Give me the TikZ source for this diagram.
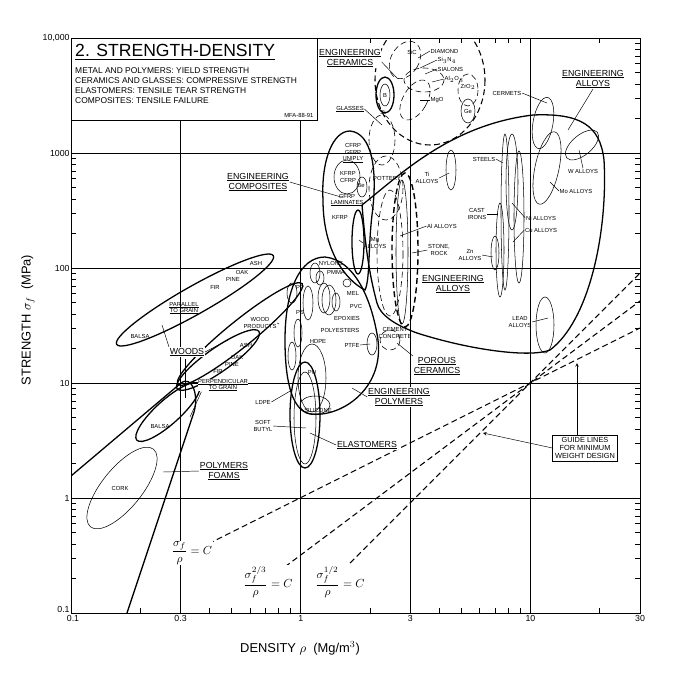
\documentclass[tikz,border=0pt]{standalone}
\usepackage{amsmath,amssymb}
\usepackage{fontspec}
\setmainfont{Liberation Sans}
\usepackage{xcolor}
\usepackage{tikz}
\usetikzlibrary{calc}

\begin{document}
\begin{tikzpicture}[x=0.03cm,y=-0.03cm,
    lab/.style={font=\fontsize{5}{5.5}\selectfont,inner sep=0.4pt,align=center},
    grp/.style={font=\fontsize{7.5}{8.5}\selectfont,inner sep=0.6pt,align=center,fill=white},
    env/.style={line width=1.1pt},
    fam/.style={line width=0.45pt},
    dsh/.style={line width=0.9pt,dash pattern=on 5pt off 3pt},
    ldr/.style={line width=0.4pt},
    gdl/.style={fill=white,inner sep=0.5pt,font=\fontsize{10}{11}\selectfont}]
    % --- page and frame
    \useasboundingbox (0,0) rectangle (681,687);
    \draw[line width=0.7pt] (71,38) rectangle (640,613);

    % --- grid (log decades)
    \foreach \x in {180.6,300.7}{\draw[line width=0.5pt] (\x,120) -- (\x,613);}
    \foreach \x in {410.3,530.4}{\draw[line width=0.5pt] (\x,38) -- (\x,613);}
    \foreach \y in {153,268,383,498}{\draw[line width=0.5pt] (71,\y) -- (640,\y);}

    % --- minor ticks
    \foreach \d in {0,...,4}{\foreach \m in {2,...,9}{
      \pgfmathsetmacro\ty{613-115*(\d+ln(\m)/ln(10))}
      \draw[line width=0.4pt] (71,\ty) -- ++(5,0);
      \draw[line width=0.4pt] (640,\ty) -- ++(-5,0);}}
    \foreach \d in {0,1,2}{\foreach \m in {2,...,9}{
      \pgfmathsetmacro\tx{71+229.7*(\d+ln(\m)/ln(10))}
      \ifdim\tx pt<639pt
        \draw[line width=0.4pt] (\tx,613) -- ++(0,-5);
        \draw[line width=0.4pt] (\tx,38) -- ++(0,5);
      \fi}}

    % --- axis numbers
    \foreach \y/\t in {38/{10,000},153/1000,268/100,383/10,498/1,609/0.1}{
      \node[anchor=east,font=\fontsize{7.5}{8}\selectfont,inner sep=1pt] (ylab\y) at (71,\y) {\t};}
    \foreach \x/\t in {73/0.1,180.6/0.3,300.7/1,410.3/3,530.4/10,640/30}{
      \node[anchor=north,font=\fontsize{7.5}{8}\selectfont,inner sep=1pt] (xlab\x) at (\x,614) {\t};}
    \node[font=\fontsize{11}{12}\selectfont] (xtitle) at (300,648) {DENSITY $\rho$ \ (Mg/m$^3$)};
    \node[font=\fontsize{11}{12}\selectfont,rotate=90] (ytitle) at (28,320) {STRENGTH $\sigma_f$ \ (MPa)};

    % --- title box
    \draw[line width=0.7pt,fill=white] (71,38) rectangle (317,120);
    \node[anchor=west,font=\fontsize{15}{16}\selectfont,inner sep=0pt] (title) at (75,52) {\underline{2. STRENGTH-DENSITY}};
    \node[anchor=north west,font=\fontsize{7.2}{8.6}\selectfont,align=left,inner sep=0pt] (subtitle) at (75,67)
      {METAL AND POLYMERS: YIELD STRENGTH\\CERAMICS AND GLASSES: COMPRESSIVE STRENGTH\\ELASTOMERS: TENSILE TEAR STRENGTH\\COMPOSITES: TENSILE FAILURE};
    \node[lab,anchor=east] (mfa) at (314,115) {MFA-88-91};

    \begin{scope}
    \clip (71,38) rectangle (640,613);
    % --- guide lines
    \draw[dsh] (200,548) -- (640,328);
    \draw[dsh] (270,578) -- (640,301);
    \draw[dsh] (350,563) -- (640,273);

    % --- foams and woods
    \draw[env] (71,476) -- (181,383) .. controls (192,375) and (199,395) .. (194,412) -- (127,613);
    \draw[env,rotate around={29.5:(195,300)}] (195,300) ellipse (90 and 14);
    \draw[env,rotate around={39:(240,334)}] (240,334) ellipse (80 and 13);
    \draw[env,rotate around={35:(218,360)}] (218,360) ellipse (50 and 12);
    \draw[env,rotate around={42:(168,412)}] (168,412) ellipse (42 and 12);
    \draw[fam,rotate around={51:(122,488)}] (122,488) ellipse (50 and 20);

    % --- polymers and elastomers
    \draw[env] (285,340) .. controls (285,290) and (300,257) .. (325,257) .. controls (355,260) and (372,300) .. (378,340)
      .. controls (384,390) and (340,418) .. (310,414) .. controls (290,410) and (285,375) .. (285,340);
    \draw[env] (305,415) ellipse (15 and 53);
    \draw[fam] (305,418) ellipse (11 and 46);
    \draw[fam] (312,378) ellipse (14 and 34);
    \draw[fam] (315,405) ellipse (15 and 9);
    \draw[fam] (298,333) ellipse (4 and 14);
    \draw[fam] (292,356) ellipse (4 and 14);
    \draw[fam] (292,293) ellipse (5 and 10);
    \draw[fam] (308,303) ellipse (5 and 17);
    \draw[fam] (315,273) ellipse (5 and 10);
    \draw[fam] (320,278) ellipse (4 and 7);
    \draw[fam] (324,298) ellipse (6 and 15);
    \draw[fam] (329,300) ellipse (7 and 15);
    \draw[fam] (347,283) ellipse (4 and 4);
    \draw[fam] (336,302) ellipse (4 and 9);
    \draw[fam] (372,344) ellipse (5 and 11);

    % --- composites
    \draw[env] (350,131) .. controls (372,133) and (378,170) .. (372,215) .. controls (368,250) and (370,280) .. (365,290)
      .. controls (345,280) and (323,250) .. (323,200) .. controls (321,160) and (333,131) .. (350,131);
    \draw[fam] (347,177) ellipse (13 and 17);
    \draw[fam] (362,187) ellipse (5 and 10);
    \draw[env] (358,242) ellipse (6 and 32);

    % --- ceramics and glasses
    \draw[dsh] (430,80) ellipse (55 and 65);
    \draw[dsh,line width=0.5pt] (386,188) ellipse (17 and 32);
    \draw[dsh,line width=1.2pt] (405,250) ellipse (13 and 77);
    \draw[dsh,line width=0.5pt] (390,253) ellipse (13 and 63);
    \draw[dsh,line width=0.5pt] (382,140) ellipse (13 and 25);
    \draw[dsh,line width=0.5pt,rotate around={-30:(405,60)}] (405,60) ellipse (14 and 20);
    \draw[dsh,line width=0.5pt] (424,80) ellipse (20 and 12);
    \draw[dsh,line width=0.5pt,rotate around={-30:(415,100)}] (415,100) ellipse (12 and 22);
    \draw[dsh,line width=0.5pt] (468,90) ellipse (10 and 16);
    \draw[fam] (468,111) ellipse (7 and 12);
    \draw[env] (385,95) ellipse (9 and 18);
    \draw[fam] (385,95) ellipse (5 and 11);
    \draw[dsh,line width=0.5pt] (390,340) ellipse (10 and 10);

    % --- metals
    \draw[env] (362,205) .. controls (400,175) and (450,125) .. (533,115) .. controls (580,113) and (600,125) .. (604,160)
      .. controls (608,230) and (590,320) .. (550,350) .. controls (530,358) and (470,350) .. (417,333)
      .. controls (395,325) and (380,315) .. (377,303) .. controls (368,270) and (365,240) .. (362,205);
    \draw[fam] (402,252) ellipse (6 and 72);
    \draw[fam] (451,170) ellipse (5 and 20);
    \draw[fam] (505,212) ellipse (4 and 78);
    \draw[fam] (512,182) ellipse (6 and 48);
    \draw[fam] (519,217) ellipse (5 and 66);
    \draw[fam] (500,250) ellipse (4 and 47);
    \draw[fam] (495,253) ellipse (4 and 17);
    \draw[fam] (545,325) ellipse (9 and 28);
    \draw[fam,rotate around={-10:(543,123)}] (543,123) ellipse (10 and 26);
    \draw[fam,rotate around={40:(582,145)}] (582,145) ellipse (20 and 10);
    \draw[fam,rotate around={-12:(547,168)}] (547,168) ellipse (12 and 37);
    \end{scope}

    % --- woods and foams labels
    \node[lab] (ash1) at (256,263) {ASH};
    \node[lab] (oak1) at (242,272) {OAK};
    \node[lab] (pine1) at (233,279) {PINE};
    \node[lab] (fir1) at (215,287) {FIR};
    \node[lab] (para) at (184,308) {\underline{PARALLEL}\\\underline{TO GRAIN}};
    \node[lab] (balsa1) at (140,336) {BALSA};
    \node[grp] (woods) at (187,352) {\underline{WOODS}};
    \node[lab] (wprod) at (260,323) {WOOD\\PRODUCTS};
    \node[lab] (ash2) at (246,345) {ASH};
    \node[lab] (oak2) at (237,357) {OAK};
    \node[lab] (pine2) at (232,364) {PINE};
    \node[lab] (fir2) at (218,371) {FIR};
    \node[lab,fill=white] (perp) at (223,385) {\underline{PERPENDICULAR}\\\underline{TO GRAIN}};
    \node[lab] (balsa2) at (160,426) {BALSA};
    \node[lab] (cork) at (120,488) {CORK};
    \node[grp] (foams) at (224,471) {\underline{POLYMERS}\\\underline{FOAMS}};
    \draw[ldr] (woods.north west) -- (162,325);
    \draw[ldr] (woods.east) -- (228,340);
    \draw[ldr] (185,359) -- (185,398);
    \draw[ldr] (perp.south west) ++(4,0) -- (190,417);
    \draw[ldr] (foams.west) -- (163,472);
    \draw[ldr] (wprod.east) -- (279,324);

    % --- polymer labels
    \node[lab] (nylons) at (331,263) {NYLONS};
    \node[lab] (pmma) at (336,272) {PMMA};
    \node[lab] (pp) at (300,287) {PP};
    \node[lab] (mel) at (353,293) {MEL};
    \node[lab] (pvc) at (356,306) {PVC};
    \node[lab] (ps) at (300,312) {PS};
    \node[lab] (epox) at (347,318) {EPOXIES};
    \node[lab] (poly) at (340,330) {POLYESTERS};
    \node[lab] (hdpe) at (318,341) {HDPE};
    \node[lab] (ptfe) at (352,345) {PTFE};
    \node[lab] (pu) at (312,373) {PU};
    \node[lab] (ldpe) at (263,402) {LDPE};
    \node[lab] (silic) at (318,410) {SILICONE};
    \node[lab] (butyl) at (263,426) {SOFT\\BUTYL};
    \node[grp] (elast) at (367,445) {\underline{ELASTOMERS}};
    \node[grp] (epoly) at (399,397) {\underline{ENGINEERING}\\\underline{POLYMERS}};
    \draw[ldr] (ldpe.east) -- (292,390);
    \draw[ldr] (butyl.east) -- (306,428);
    \draw[ldr] (elast.west) -- (310,433);
    \draw[ldr] (epoly.west) -- (352,388);
    \draw[ldr] (ptfe.east) -- (370,344);

    % --- composites labels
    \node[lab] (cfrp1) at (353,153) {CFRP\\GFRP\\\underline{UNIPLY}};
    \node[lab] (kfrp1) at (348,177) {KFRP\\CFRP};
    \node[lab] (be) at (361,186) {Be};
    \node[lab] (lam) at (347,200) {GFRP\\\underline{LAMINATES}};
    \node[lab] (kfrp2) at (340,217) {KFRP};
    \node[lab] (mg) at (375,243) {Mg\\ALLOYS};
    \node[lab] (pottery) at (387,178) {POTTERY};
    \node[grp] (ecomp) at (258,182) {\underline{ENGINEERING}\\\underline{COMPOSITES}};
    \draw[ldr] (ecomp.east) -- (341,197);
    \draw[ldr] (mg.west) -- (359,240);

    % --- ceramics labels
    \node[grp] (ecer) at (350,58) {\underline{ENGINEERING}\\\underline{CERAMICS}};
    \node[lab] (glasses) at (350,109) {\underline{GLASSES}};
    \node[lab] (sic) at (412,52) {SiC};
    \node[lab,anchor=west] (diam) at (430,51) {DIAMOND};
    \node[lab,anchor=west] (si3n4) at (437,60) {Si$_3$N$_4$};
    \node[lab,anchor=west] (sial) at (437,69) {SIALONS};
    \node[lab,anchor=west] (al2o3) at (444,79) {Al$_2$O$_3$};
    \node[lab] (zro2) at (468,87) {ZrO$_2$};
    \node[lab] (mgo) at (437,100) {MgO};
    \node[lab] (ge) at (468,111) {Ge};
    \node[lab] (bor) at (385,95) {B};
    \node[lab] (si) at (383,112) {Si};
    \draw[ldr] (ecer.east) ++(0,4) -- (397,78);
    \draw[ldr] (glasses.east) -- (382,125);
    \draw[ldr] (diam.west) -- (418,58);
    \draw[ldr] (si3n4.west) -- (420,68);
    \draw[ldr] (sial.west) -- (425,74);
    \draw[ldr] (al2o3.west) -- (432,82);
    \draw[ldr] (mgo.west) -- (420,100);

    % --- metals labels
    \node[lab] (cermets) at (507,93) {CERMETS};
    \node[grp] (ealloy1) at (593,79) {\underline{ENGINEERING}\\\underline{ALLOYS}};
    \node[lab] (walloy) at (583,171) {W ALLOYS};
    \node[lab] (moalloy) at (576,191) {Mo ALLOYS};
    \node[lab] (steels) at (484,159) {STEELS};
    \node[lab] (tialloy) at (427,178) {Ti\\ALLOYS};
    \node[lab] (cast) at (477,214) {CAST\\IRONS};
    \node[lab] (nialloy) at (541,218) {Ni ALLOYS};
    \node[lab] (cualloy) at (541,230) {Cu ALLOYS};
    \node[lab] (znalloy) at (470,255) {Zn\\ALLOYS};
    \node[lab] (alalloy) at (442,226) {Al ALLOYS};
    \node[lab] (stone) at (439,250) {STONE,\\ROCK};
    \node[grp,fill=none] (ealloy2) at (453,284) {\underline{ENGINEERING}\\\underline{ALLOYS}};
    \node[lab] (lead) at (520,322) {LEAD\\ALLOYS};
    \node[lab] (cement) at (395,333) {CEMENT\\CONCRETE};
    \node[grp] (porous) at (437,366) {\underline{POROUS}\\\underline{CERAMICS}};
    \draw[ldr] (cermets.east) -- (547,103);
    \draw[ldr] (ealloy1.south) -- (568,130);
    \draw[ldr] (walloy.north) -- (579,150);
    \draw[ldr] (moalloy.west) -- (550,182);
    \draw[ldr] (steels.east) -- (503,163);
    \draw[ldr] (tialloy.east) -- (449,173);
    \draw[ldr] (cast.east) -- (498,214);
    \draw[ldr] (nialloy.west) -- (512,203);
    \draw[ldr] (cualloy.west) -- (513,242);
    \draw[ldr] (znalloy.east) -- (493,257);
    \draw[ldr] (alalloy.west) -- (400,236);
    \draw[ldr] (stone.west) -- (412,253);
    \draw[ldr] (lead.east) -- (548,318);
    \draw[ldr] (porous.north west) -- (397,343);

    % --- guide line labels and box
    \node[gdl] (g1) at (192,553) {$\dfrac{\sigma_f}{\rho}=C$};
    \node[gdl] (g2) at (268,582) {$\dfrac{\sigma_f^{2/3}}{\rho}=C$};
    \node[gdl] (g3) at (340,582) {$\dfrac{\sigma_f^{1/2}}{\rho}=C$};
    \node[draw,fill=white,line width=0.6pt,font=\fontsize{6.3}{6.8}\selectfont,align=center,inner sep=2pt] (guide) at (585,448)
      {GUIDE LINES\\FOR MINIMUM\\WEIGHT DESIGN};
    \draw[->,ldr,>=stealth] (guide.north -| 577,0) -- (577,363);
    \draw[->,ldr,>=stealth] (guide.west) -- (483,433);
\end{tikzpicture}
\end{document}
